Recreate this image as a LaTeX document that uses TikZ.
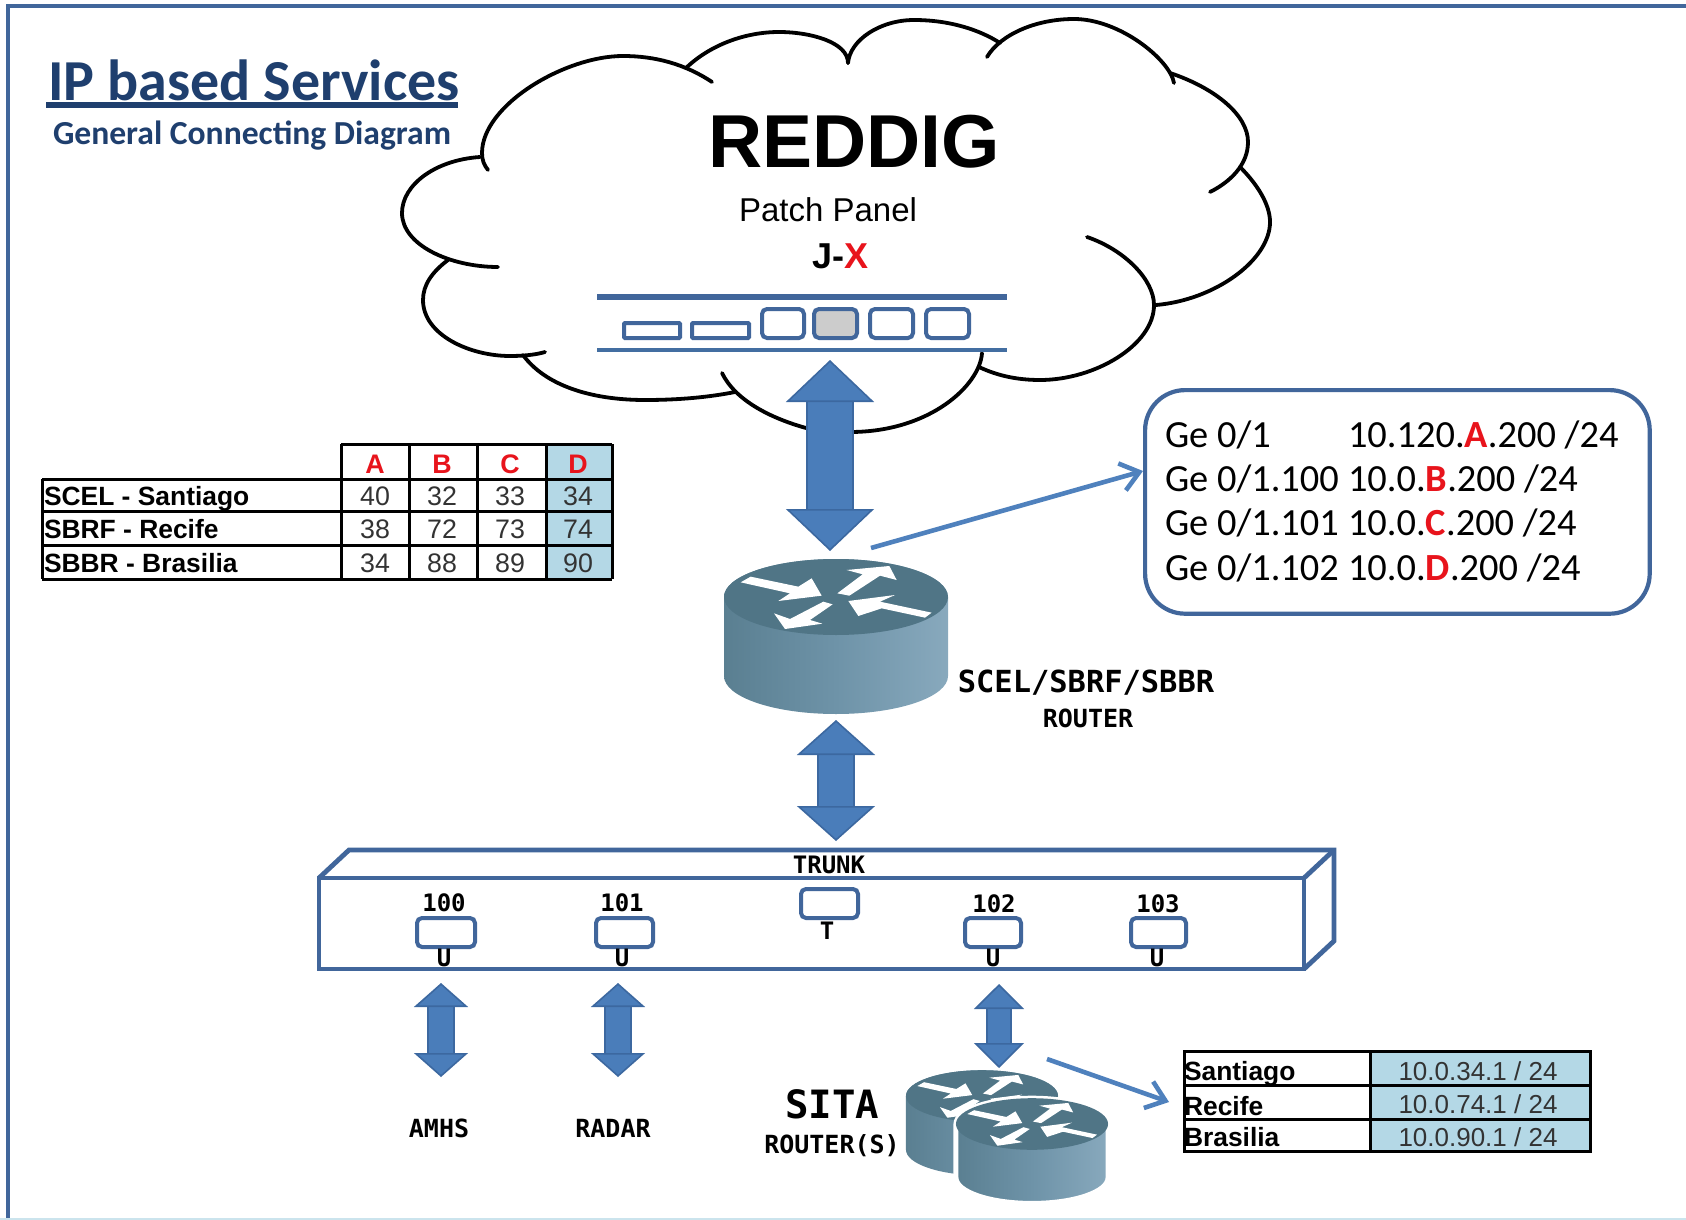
\documentclass[tikz,border=0pt]{standalone}
\usepackage{fontspec}
\usetikzlibrary{arrows.meta}
\setmainfont{Liberation Sans}
\newfontfamily\carl{Carlito}
\newfontfamily\lmono{DejaVu Sans Mono}
\definecolor{framec}{HTML}{41669B}
\definecolor{titlec}{HTML}{1F3F6E}
\definecolor{bigfill}{HTML}{4A7DBA}
\definecolor{bigedge}{HTML}{3C68A0}
\definecolor{thinc}{HTML}{4F81BD}
\definecolor{cellc}{HTML}{B4D8E6}
\definecolor{redc}{HTML}{E8141C}
\definecolor{rtop}{HTML}{507586}
\definecolor{rleft}{HTML}{5A7F91}
\definecolor{rmid}{HTML}{6E93A8}
\definecolor{rright}{HTML}{88A9BD}
\tikzset{
  txt/.style={inner sep=0pt,outer sep=0pt,anchor=base},
  txtl/.style={txt,anchor=base west},
  title/.style={txtl,text=titlec,font=\carl\bfseries\fontsize{29}{29}\selectfont},
  subtitle/.style={txtl,text=titlec,font=\carl\bfseries\fontsize{16.8}{17}\selectfont},
  bigtxt/.style={txt,font=\bfseries\fontsize{37.5}{38}\selectfont},
  patchtxt/.style={txt,font=\fontsize{16.5}{17}\selectfont},
  jxtxt/.style={txt,font=\bfseries\fontsize{18}{18}\selectfont},
  cloudline/.style={draw=black,line width=1.9pt,line cap=round},
  frameline/.style={draw=framec,line width=2.4pt},
  portbox/.style={draw=framec,line width=2pt,rounded corners=2.5pt},
  gridline/.style={draw=black,line width=1.5pt},
  rowlbl/.style={txtl,font=\bfseries\fontsize{13.2}{14}\selectfont},
  numtxt/.style={txt,text=black!80,font=\fontsize{13.4}{14}\selectfont},
  ipval/.style={txt,text=black!80,font=\fontsize{13}{14}\selectfont},
  headtxt/.style={txt,text=redc,font=\bfseries\fontsize{13.4}{14}\selectfont},
  gelbl/.style={txtl,font=\carl\fontsize{19.2}{20}\selectfont},
  monoS/.style={txt,font=\lmono\bfseries\fontsize{12}{12}\selectfont},
  monoM/.style={txt,font=\lmono\bfseries\fontsize{12.5}{13}\selectfont},
  monoL/.style={txt,font=\lmono\bfseries\fontsize{15.2}{16}\selectfont},
  monoXL/.style={txt,font=\lmono\bfseries\fontsize{19.5}{20}\selectfont},
  bigarrow/.style n args={3}{draw=bigedge,line width=.8pt,double=bigfill,double distance=#3,
    {Triangle[length=#2,width=#1,fill=bigfill,line width=.8pt]}-{Triangle[length=#2,width=#1,fill=bigfill,line width=.8pt]}},
  thinarrow/.style={draw=thinc,line width=2.3pt,-{Straight Barb[length=9pt,width=14pt,line width=2.3pt]}},
  halo/.style={draw=white,line width=2.5pt},
  nohalo/.style={},
}
\newcommand{\routerpic}[4]{% cx, cy(top ellipse centre), scale, outline style
  \begin{scope}[shift={(#1,#2)},scale=#3]
    \shade[left color=rleft,right color=rright,middle color=rmid,#4]
      (-112,0) -- (-112,79) .. controls (-112,100) and (-62,117) .. (0,117)
      .. controls (62,117) and (112,100) .. (112,79) -- (112,0)
      .. controls (112,-21) and (62,-38) .. (0,-38)
      .. controls (-62,-38) and (-112,-21) .. (-112,0) -- cycle;
    \fill[rtop] (-112,0) .. controls (-112,21) and (-62,38) .. (0,38)
      .. controls (62,38) and (112,21) .. (112,0)
      .. controls (112,-21) and (62,-38) .. (0,-38)
      .. controls (-62,-38) and (-112,-21) .. (-112,0) -- cycle;
    \begin{scope}[scale=1/3,shift={(-378,-156)}]
      \fill[white] (92,112)--(122,95)--(265,125)--(305,100)--(335,152)--(205,168)--(240,145)--cycle;
      \fill[white] (382,145)--(458,88)--(410,75)--(538,63)--(560,105)--(510,92)--(418,152)--cycle;
      \fill[white] (665,203)--(645,218)--(515,190)--(445,213)--(415,168)--(555,150)--(510,170)--cycle;
      \fill[white] (340,170)--(368,178)--(300,225)--(337,236)--(225,252)--(192,205)--(240,222)--cycle;
    \end{scope}
  \end{scope}}
\begin{document}
\begin{tikzpicture}[x=0.5pt,y=-0.5pt]
\useasboundingbox (0,0) rectangle (1686,1220);
\fill[white] (0,0) rectangle (1686,1220);
% frame
\coordinate (fa) at (8,1220); \coordinate (fb) at (8,6); \coordinate (fc) at (1686,6);
\draw[frameline] (fa) -- (fb) -- (fc);
\draw[draw=cellc!70,line width=1pt] (0,1219) -- (1686,1219);
% title
\node[title] (ttl) at (48,101) {IP based Services};
\draw[draw=titlec,line width=2.8pt] (46,105) -- (458,105);
\node[subtitle] (sub) at (53,144) {General Connecting Diagram};
% cloud
\draw[cloudline] (712,82) .. controls (685,64) and (655,56) .. (623,56) .. controls (565,56) and (482,105) .. (482,153) .. controls (482,160) and (484,165) .. (488,170);
\draw[cloudline] (686,68) .. controls (710,45) and (745,32) .. (779,32) .. controls (810,32) and (848,42) .. (848,63);
\draw[cloudline] (848,63) .. controls (850,40) and (880,20) .. (914,20) .. controls (950,20) and (980,30) .. (1000,43);
\draw[cloudline] (987,57) .. controls (1000,35) and (1035,19) .. (1074,19) .. controls (1120,19) and (1170,60) .. (1174,83);
\draw[cloudline] (1170,73) .. controls (1215,88) and (1248,115) .. (1248,142) .. controls (1248,165) and (1230,182) .. (1210,192);
\draw[cloudline] (1240,167) .. controls (1258,185) and (1270,205) .. (1270,222) .. controls (1270,260) and (1215,300) .. (1156,305);
\draw[cloudline] (1087,237) .. controls (1125,250) and (1154,280) .. (1154,305) .. controls (1154,345) and (1095,380) .. (1040,380) .. controls (1018,380) and (998,376) .. (979,367);
\draw[cloudline] (982,353) .. controls (980,385) and (930,432) .. (850,432);
\draw[cloudline] (722,373) .. controls (735,400) and (770,418) .. (806,428);
\draw[cloudline] (523,355) .. controls (545,385) and (590,400) .. (645,400) .. controls (680,400) and (710,397) .. (735,392);
\draw[cloudline] (448,260) .. controls (432,272) and (423,285) .. (423,300) .. controls (423,335) and (470,356) .. (510,356) .. controls (522,356) and (535,355) .. (545,352);
\draw[cloudline] (480,157) .. controls (435,160) and (402,185) .. (402,213) .. controls (402,245) and (450,267) .. (498,267);
% cloud text
\node[bigtxt] (reddig) at (854,167) {REDDIG};
\node[patchtxt] (patch) at (828,221) {Patch Panel};
\node[jxtxt] (jx) at (840,268) {J-\textcolor{redc}{X}};
% patch panel
\draw[draw=framec,line width=2.6pt] (597,297) -- (1007,297);
\draw[draw=thinc!85!black,line width=1.7pt] (597,350) -- (1007,350);
\draw[portbox,rounded corners=.5pt] (624,323) rectangle (680,338);
\draw[portbox,rounded corners=.5pt] (692,323) rectangle (749,338);
\draw[portbox] (762,309) rectangle (804,338);
\draw[portbox,fill=black!20] (814,309) rectangle (857,338);
\draw[portbox] (870,309) rectangle (913,338);
\draw[portbox] (926,309) rectangle (969,338);
% table 1
\fill[cellc] (546,444) rectangle (612,579);
\draw[gridline] (341,444) -- (612,444);
\draw[gridline] (42,479) -- (612,479);
\draw[gridline] (42,511) -- (612,511);
\draw[gridline] (42,545) -- (612,545);
\draw[gridline] (42,579) -- (612,579);
\draw[gridline] (42,479) -- (42,579);
\draw[gridline] (341,444) -- (341,579);
\draw[gridline] (409,444) -- (409,579);
\draw[gridline] (477,444) -- (477,579);
\draw[gridline] (546,444) -- (546,579);
\draw[gridline] (612,444) -- (612,579);
\node[headtxt] (ha) at (375,473) {A};
\node[headtxt] (hb) at (442,473) {B};
\node[headtxt] (hc) at (510,473) {C};
\node[headtxt] (hd) at (578,473) {D};
\node[rowlbl] (r1l) at (44,505) {SCEL - Santiago};
\node[rowlbl] (r2l) at (44,538) {SBRF - Recife};
\node[rowlbl] (r3l) at (44,572) {SBBR - Brasilia};
\node[numtxt] (c11) at (375,505) {40};
\node[numtxt] (c12) at (442,505) {32};
\node[numtxt] (c13) at (510,505) {33};
\node[numtxt] (c14) at (578,505) {34};
\node[numtxt] (c21) at (375,538) {38};
\node[numtxt] (c22) at (442,538) {72};
\node[numtxt] (c23) at (510,538) {73};
\node[numtxt] (c24) at (578,538) {74};
\node[numtxt] (c31) at (375,572) {34};
\node[numtxt] (c32) at (442,572) {88};
\node[numtxt] (c33) at (510,572) {89};
\node[numtxt] (c34) at (578,572) {90};
% interface box
\node[draw=framec,line width=2.1pt,rounded corners=20pt,minimum width=252.3pt,minimum height=111.8pt,inner sep=0pt,anchor=north west] (ifbox) at (1143,388) {};
\node[gelbl] (g1) at (1165,447) {Ge 0/1};
\node[gelbl] (g2) at (1165,491) {Ge 0/1.100};
\node[gelbl] (g3) at (1165,535) {Ge 0/1.101};
\node[gelbl] (g4) at (1165,580) {Ge 0/1.102};
\node[gelbl] (v1) at (1348,447) {10.120.\textcolor{redc}{\bfseries A}.200 /24};
\node[gelbl] (v2) at (1348,491) {10.0.\textcolor{redc}{\bfseries B}.200 /24};
\node[gelbl] (v3) at (1348,535) {10.0.\textcolor{redc}{\bfseries C}.200 /24};
\node[gelbl] (v4) at (1348,580) {10.0.\textcolor{redc}{\bfseries D}.200 /24};
% main router
\routerpic{836}{597}{1}{nohalo}
\coordinate (thinA) at (871,548);
\coordinate (thinB) at (1143,471);
\draw[thinarrow] (thinA) -- (thinB);
\node[monoL] (rname) at (1086,692) {SCEL/SBRF/SBBR};
\node[monoM] (rlabel) at (1088,727) {ROUTER};
% big arrows
\coordinate (a1t) at (830,360); \coordinate (a1b) at (830,551);
\draw[bigarrow={44pt}{21pt}{22pt}] (a1t) -- (a1b);
\coordinate (a2t) at (836,720); \coordinate (a2b) at (836,841);
\draw[bigarrow={39pt}{17.5pt}{17pt}] (a2t) -- (a2b);
% switch
\draw[frameline] (319,878) rectangle (1304,969);
\draw[frameline,line join=miter] (319,878) -- (349,850) -- (1334,850) -- (1334,941) -- (1304,969);
\draw[frameline] (1304,878) -- (1334,850);
\draw[portbox] (417,918) rectangle (475,947);
\draw[portbox] (596,918) rectangle (653,947);
\draw[portbox] (801,889) rectangle (858,918);
\draw[portbox] (965,918) rectangle (1021,947);
\draw[portbox] (1131,918) rectangle (1186,947);
\node[monoS] (trunk) at (829,873) {TRUNK};
\node[monoS] (p100) at (444,911) {100};
\node[monoS] (p101) at (622,911) {101};
\node[monoS] (p102) at (994,912) {102};
\node[monoS] (p103) at (1158,912) {103};
\node[monoS] (u1) at (444,966) {U};
\node[monoS] (u2) at (622,966) {U};
\node[monoS] (u3) at (993,966) {U};
\node[monoS] (u4) at (1157,966) {U};
\node[monoS] (tt) at (827,939) {T};
% lower arrows
\coordinate (a3t) at (441,983); \coordinate (a3b) at (441,1077);
\draw[bigarrow={27pt}{12pt}{12pt}] (a3t) -- (a3b);
\coordinate (a4t) at (618,983); \coordinate (a4b) at (618,1077);
\draw[bigarrow={27pt}{12pt}{12pt}] (a4t) -- (a4b);
\coordinate (a5t) at (999,984); \coordinate (a5b) at (999,1068);
\draw[bigarrow={25pt}{12.5pt}{11pt}] (a5t) -- (a5b);
\node[monoM] (amhs) at (439,1137) {AMHS};
\node[monoM] (radar) at (613,1137) {RADAR};
\node[monoXL] (sita) at (832,1118) {SITA};
\node[monoM] (srout) at (832,1153) {ROUTER(S)};
% sita routers
\routerpic{982}{1096}{.679}{nohalo}
\routerpic{1032}{1124}{.679}{halo}
\coordinate (thinC) at (1047,1059);
\coordinate (thinD) at (1169,1102);
\draw[thinarrow] (thinC) -- (thinD);
% table 2
\fill[cellc] (1370,1051) rectangle (1590,1151);
\draw[gridline] (1184,1051) rectangle (1590,1151);
\draw[gridline] (1184,1085) -- (1590,1085);
\draw[gridline] (1184,1119) -- (1590,1119);
\draw[gridline] (1370,1051) -- (1370,1151);
\node[rowlbl] (s1) at (1184,1080) {Santiago};
\node[rowlbl] (s2) at (1184,1115) {Recife};
\node[rowlbl] (s3) at (1184,1146) {Brasilia};
\node[ipval] (i1) at (1478,1080) {10.0.34.1 / 24};
\node[ipval] (i2) at (1478,1113) {10.0.74.1 / 24};
\node[ipval] (i3) at (1478,1146) {10.0.90.1 / 24};
\end{tikzpicture}
\end{document}
